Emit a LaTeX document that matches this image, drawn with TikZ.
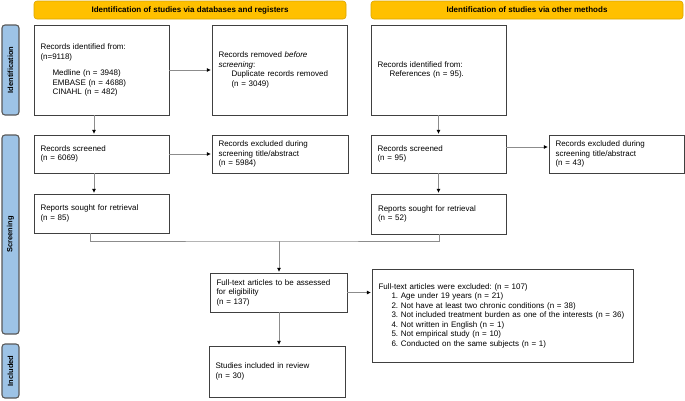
\documentclass[tikz,border=0pt]{standalone}
\usepackage{fontspec}
\setmainfont{Liberation Sans}
\usetikzlibrary{positioning, arrows.meta}
\frenchspacing

\definecolor{hdrgold}{HTML}{FFC000}
\definecolor{hdredge}{HTML}{D9A400}
\definecolor{tabblue}{HTML}{9DC3E6}
\definecolor{tabedge}{HTML}{595959}
\definecolor{boxedge}{HTML}{404040}
\definecolor{lnkgray}{HTML}{8C8C8C}

\tikzset{
    stage/.style={draw=boxedge, line width=0.9pt, fill=white, align=left,
        inner xsep=6.5pt, inner ysep=0pt, font=\fontsize{8}{9.5}\selectfont},
    header/.style={draw=hdredge, fill=hdrgold, rounded corners=3pt, line width=0.6pt,
        minimum width=312pt, minimum height=18pt, inner sep=0pt,
        font=\fontsize{8}{9}\selectfont\bfseries},
    phase/.style={draw=tabedge, fill=tabblue, rounded corners=3pt, line width=1.1pt,
        minimum height=17pt, inner sep=0pt, rotate=90,
        font=\fontsize{7.5}{8}\selectfont\bfseries},
    link/.style={draw=lnkgray, line width=0.8pt,
        -{Latex[black, length=4pt, width=4pt]}, shorten >=0.6pt}
}

\begin{document}
\begin{tikzpicture}[x=1pt, y=-1pt]
    \useasboundingbox (0,0) rectangle (685,400);

    % headers
    \node[header] (hdrdb) at (190,10) {Identification of studies via databases and registers};
    \node[header] (hdroth) at (527,10) {Identification of studies via other methods};

    % phase tabs
    \node[phase, minimum width=90pt] (tabid) at (10.5,70) {Identification};
    \node[phase, minimum width=199pt] (tabscr) at (10.5,234.5) {Screening};
    \node[phase, minimum width=54pt] (tabinc) at (10.5,371) {Included};

    % databases and registers
    \node[stage, text width=122pt, minimum height=90pt] (iddb) at (101.5,70)
        {Records identified from:\\(n=9118)\\[7pt]
        \hspace*{12pt}Medline (n = 3948)\\
        \hspace*{12pt}EMBASE (n = 4688)\\
        \hspace*{12pt}CINAHL (n = 482)};
    \node[stage, text width=122pt, minimum height=90pt] (remdb) at (279.5,70)
        {Records removed \emph{before}\\\emph{screening}:\\
        \hspace*{13pt}Duplicate records removed\\
        \hspace*{13pt}(n = 3049)};
    \node[stage, text width=122pt, minimum height=38pt] (scrdb) at (101.5,154)
        {Records screened\\(n = 6069)};
    \node[stage, text width=123pt, minimum height=38pt] (excldb) at (280,154)
        {Records excluded during\\screening title/abstract\\(n = 5984)};
    \node[stage, text width=122pt, minimum height=39pt] (soughtdb) at (101.5,213.5)
        {Reports sought for retrieval\\(n = 85)};

    % other methods
    \node[stage, text width=122pt, minimum height=90pt] (idoth) at (438.5,70)
        {Records identified from:\\\hspace*{12pt}References (n = 95).};
    \node[stage, text width=122pt, minimum height=38pt] (scroth) at (438.5,154)
        {Records screened\\(n = 95)};
    \node[stage, text width=122pt, minimum height=38pt] (excloth) at (616.5,154)
        {Records excluded during\\screening title/abstract\\(n = 43)};
    \node[stage, text width=122pt, minimum height=40pt] (soughtoth) at (439,214)
        {Reports sought for retrieval\\(n = 52)};

    % eligibility and inclusion
    \node[stage, text width=124pt, minimum height=39pt] (fulltxt) at (278.5,292.5)
        {Full-text articles to be assessed\\for eligibility\\(n = 137)};
    \node[stage, text width=248pt, minimum height=93pt] (fullexcl) at (502.5,315.5)
        {Full-text articles were excluded: (n = 107)\\
        \hspace*{13pt}1. Age under 19 years (n = 21)\\
        \hspace*{13pt}2. Not have at least two chronic conditions (n = 38)\\
        \hspace*{13pt}3. Not included treatment burden as one of the interests (n = 36)\\
        \hspace*{13pt}4. Not written in English (n = 1)\\
        \hspace*{13pt}5. Not empirical study (n = 10)\\
        \hspace*{13pt}6. Conducted on the same subjects (n = 1)};
    \node[stage, text width=123pt, minimum height=51pt] (incl) at (277,371.5)
        {Studies included in review\\(n = 30)};

    \coordinate (mrg) at (279,241);

    % connectors
    \draw[link] (iddb.east) -- (remdb.west);
    \draw[link] ([xshift=-7.5pt]iddb.south) -- ([xshift=-7.5pt]scrdb.north);
    \draw[link] (scrdb.east) -- (excldb.west);
    \draw[link] ([xshift=-7.5pt]scrdb.south) -- ([xshift=-7.5pt]soughtdb.north);
    \draw[link] (idoth.south) -- (scroth.north);
    \draw[link] ([yshift=7pt]scroth.east) -- ([yshift=7pt]excloth.west);
    \draw[link] (scroth.south) -- (scroth.south |- soughtoth.north);
    \draw[draw=lnkgray, line width=0.8pt] ([xshift=-11.5pt]soughtdb.south) |- (mrg)
        -| (soughtoth.south);
    \draw[link] (mrg) -- (mrg |- fulltxt.north);
    \draw[link] (fulltxt.east) -- (fulltxt.east -| fullexcl.west);
    \draw[link] (fulltxt.south -| mrg) -- (mrg |- incl.north);
\end{tikzpicture}
\end{document}
